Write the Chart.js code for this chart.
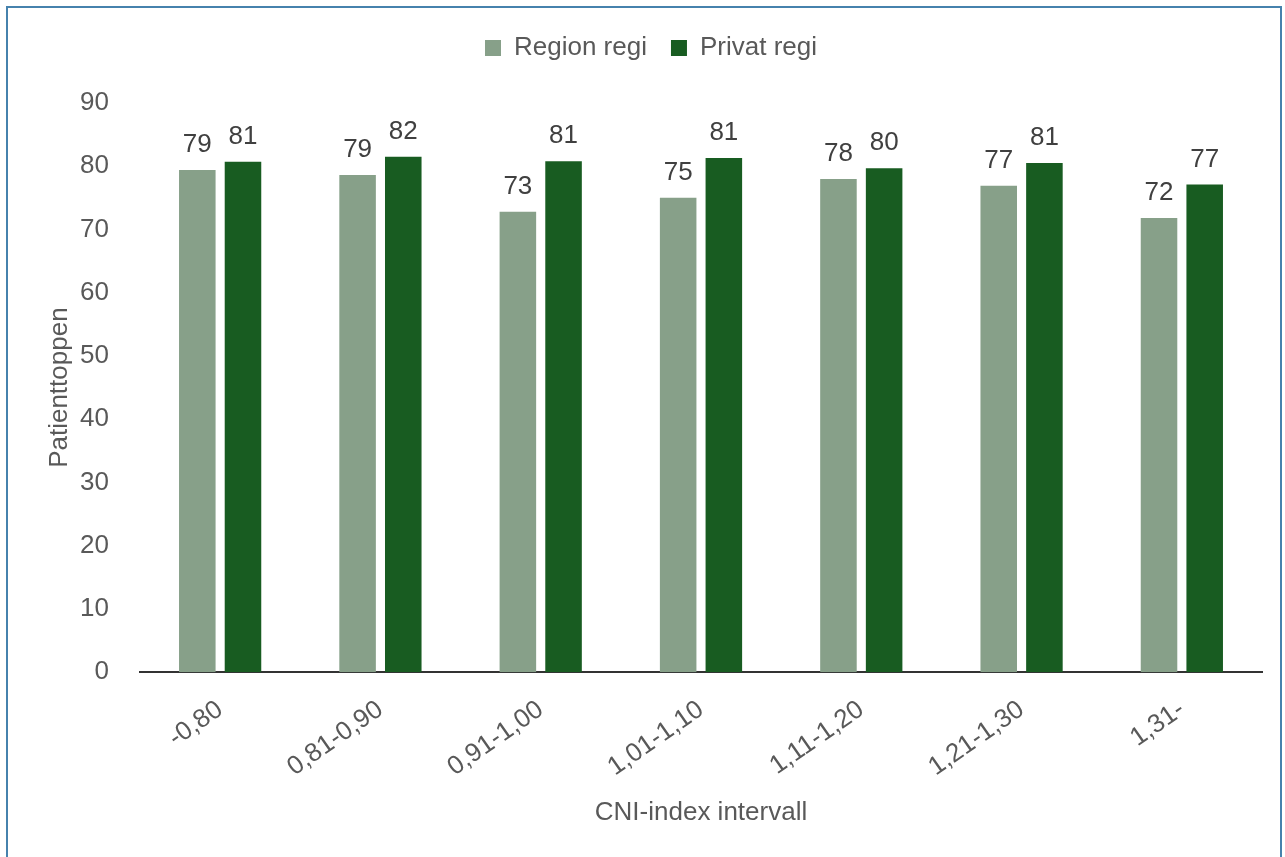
<!DOCTYPE html>
<html>
<head>
<meta charset="utf-8">
<script src="https://cdn.jsdelivr.net/npm/chart.js@4.4.1/dist/chart.umd.min.js"></script>
<style>
  html, body { margin: 0; padding: 0; background: #fff; }
  #frame { position: absolute; left: 6px; top: 6px; width: 1276px; height: 900px; border: 2px solid #4682ad; box-sizing: border-box; }
  #wrap { position: absolute; left: 0; top: 0; width: 1285px; height: 857px; }
</style>
</head>
<body>
<div id="frame"></div>
<div id="wrap"><canvas id="chart"></canvas></div>
<script>
const categories = ['-0,80', '0,81-0,90', '0,91-1,00', '1,01-1,10', '1,11-1,20', '1,21-1,30', '1,31-'];
const regionValues = [79.4, 78.6, 72.8, 75.0, 78.0, 76.9, 71.8];
const privatValues = [80.7, 81.5, 80.8, 81.3, 79.7, 80.5, 77.1];
const seriesNames = ['Region regi', 'Privat regi'];

const fontFamily = '"Liberation Sans", Arial, sans-serif';
const fontSize = 26;

// draws the rounded value above each bar
const barValueLabels = {
  id: 'barValueLabels',
  afterDatasetsDraw(chart) {
    const ctx = chart.ctx;
    ctx.save();
    ctx.font = fontSize + 'px ' + fontFamily;
    ctx.fillStyle = '#404040';
    ctx.textAlign = 'center';
    ctx.textBaseline = 'alphabetic';
    chart.data.datasets.forEach((ds, i) => {
      chart.getDatasetMeta(i).data.forEach((bar, j) => {
        ctx.fillText(Math.round(ds.data[j]), bar.x, bar.y - 18);
      });
    });
    ctx.restore();
  }
};

// extra space under the legend
const legendGap = {
  id: 'legendGap',
  beforeInit(chart) {
    const fit = chart.legend.fit;
    chart.legend.fit = function () {
      fit.bind(chart.legend)();
      this.height += 32;
    };
  }
};

new Chart(document.getElementById('chart'), {
  type: 'bar',
  data: {
    labels: categories,
    datasets: [
      { label: seriesNames[0], data: regionValues, backgroundColor: '#87a089' },
      { label: seriesNames[1], data: privatValues, backgroundColor: '#185c21' }
    ]
  },
  options: {
    responsive: true,
    maintainAspectRatio: false,
    animation: false,
    categoryPercentage: 0.57,
    barPercentage: 0.8,
    layout: { padding: { top: 11, left: 40, right: 23, bottom: 25 } },
    plugins: {
      legend: {
        position: 'top',
        labels: {
          color: '#595959',
          font: { size: fontSize, family: fontFamily },
          boxWidth: 16,
          boxHeight: 16,
          padding: 24
        }
      },
      tooltip: { enabled: false }
    },
    scales: {
      x: {
        grid: { display: false },
        border: { color: '#333', width: 2 },
        ticks: {
          color: '#595959',
          font: { size: fontSize, family: fontFamily },
          minRotation: 35,
          maxRotation: 35,
          padding: 14
        },
        title: {
          display: true,
          text: 'CNI-index intervall',
          color: '#595959',
          font: { size: fontSize, family: fontFamily },
          padding: { top: 0 }
        }
      },
      y: {
        min: 0,
        max: 90,
        afterFit(scale) { scale.width = 100; },
        grid: { display: false },
        border: { display: false },
        ticks: {
          stepSize: 10,
          color: '#595959',
          font: { size: fontSize, family: fontFamily },
          padding: 23
        },
        title: {
          display: true,
          text: 'Patienttoppen',
          color: '#595959',
          font: { size: fontSize, family: fontFamily },
          padding: { bottom: 8 }
        }
      }
    }
  },
  plugins: [barValueLabels, legendGap]
});
</script>
</body>
</html>
